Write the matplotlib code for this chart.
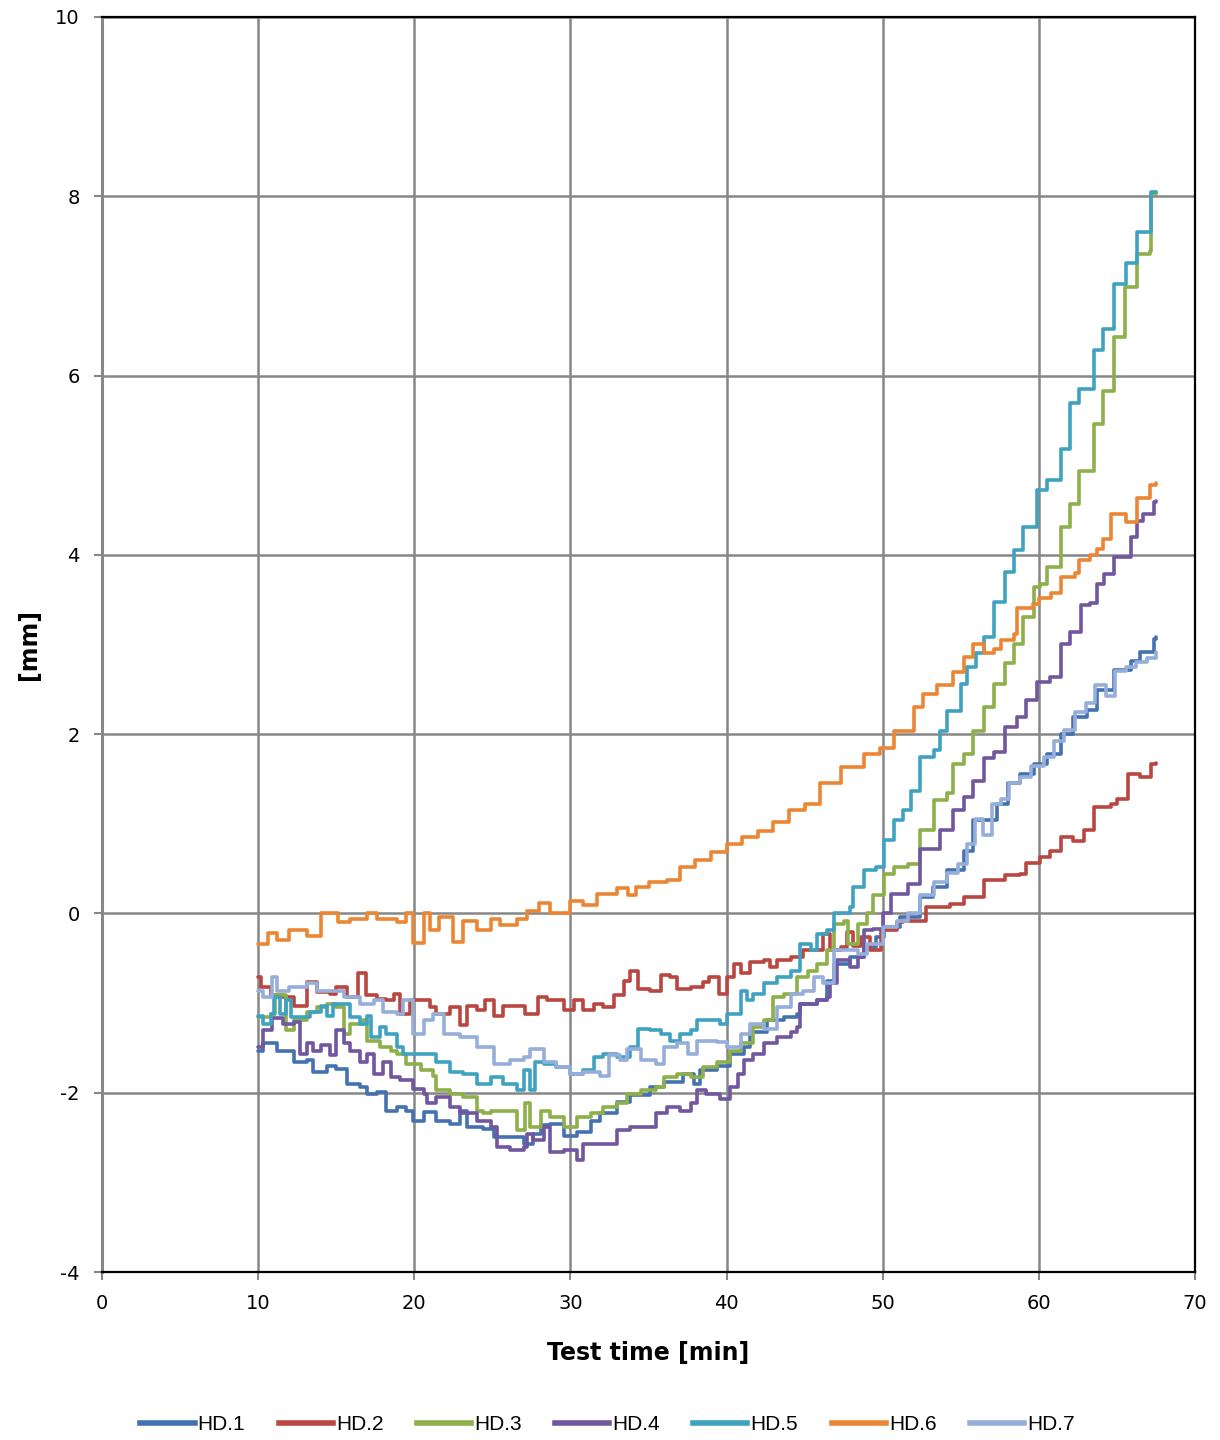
import matplotlib
matplotlib.use("Agg")
import matplotlib.pyplot as plt

plt.rcParams["axes.unicode_minus"] = False

# displacement readings [mm] vs test time [min], one pair of lists per gauge
HD1_T = [10, 10.3, 11.2, 12.3, 13.1, 13.5, 14.4, 15.0, 15.7, 16.5, 17.0, 17.6, 18.2, 18.9, 19.5,
         19.9, 20.6, 21.4, 22.3, 22.9, 23.4, 24.4, 25.1, 26.1, 27.0, 27.6, 28.1, 28.7, 29.6, 30.4,
         31.3, 31.9, 33.0, 33.8, 35.1, 36.0, 37.2, 37.9, 38.3, 39.4, 40.2, 41.1, 41.5, 42.6, 43.7,
         44.5, 44.7, 45.8, 46.4, 46.9, 47.5, 47.9, 48.8, 49.6, 50.1, 51.1, 52.4, 53.2, 54.1, 55.2,
         55.8, 57.3, 58.0, 58.8, 59.7, 60.5, 61.4, 62.2, 63.1, 63.7, 64.8, 65.9, 66.5, 67.4, 67.5]
HD1_MM = [-1.53, -1.45, -1.53, -1.66, -1.64, -1.77, -1.70, -1.73, -1.90, -1.94, -2.01, -1.99, -2.20, -2.16, -2.20,
          -2.31, -2.22, -2.31, -2.35, -2.20, -2.38, -2.40, -2.49, -2.49, -2.57, -2.46, -2.36, -2.35, -2.48, -2.44,
          -2.31, -2.23, -2.10, -2.03, -1.94, -1.88, -1.79, -1.90, -1.75, -1.70, -1.57, -1.49, -1.32, -1.19, -1.16,
          -1.12, -1.01, -0.97, -0.75, -0.56, -0.56, -0.49, -0.38, -0.26, -0.15, -0.04, 0.18, 0.30, 0.48, 0.70,
          1.04, 1.22, 1.45, 1.56, 1.67, 1.78, 2.00, 2.19, 2.27, 2.49, 2.71, 2.82, 2.92, 3.06, 3.08]

HD2_T = [10, 10.2, 10.8, 11.6, 12.3, 13.1, 13.8, 14.6, 15.0, 15.7, 16.4, 16.9, 17.6, 18.2, 18.7,
         19.1, 19.7, 20.4, 21.0, 21.4, 22.3, 22.9, 23.4, 24.0, 24.5, 25.1, 25.7, 26.6, 27.1, 27.9,
         28.5, 29.6, 30.2, 30.8, 31.5, 32.1, 32.8, 33.4, 33.8, 34.3, 35.1, 35.8, 36.4, 36.8, 37.7,
         38.5, 38.9, 39.5, 40.0, 40.5, 40.9, 41.5, 42.4, 42.8, 43.2, 44.1, 44.9, 45.8, 46.2, 46.6,
         47.3, 47.7, 48.1, 48.6, 49.2, 49.9, 50.9, 51.3, 52.8, 54.3, 55.2, 56.5, 57.8, 58.8, 59.2,
         60.1, 60.7, 61.4, 62.2, 62.9, 63.5, 64.6, 65.0, 65.7, 66.5, 67.2, 67.5]
HD2_MM = [-0.71, -0.82, -0.91, -0.93, -1.03, -0.77, -0.88, -0.90, -0.82, -0.93, -0.67, -0.91, -0.95, -0.97, -0.90,
          -1.12, -0.97, -0.97, -1.04, -1.12, -1.04, -1.25, -1.03, -1.08, -0.97, -1.14, -1.03, -1.03, -1.12, -0.93,
          -0.97, -1.08, -0.97, -1.08, -1.01, -1.04, -0.91, -0.75, -0.64, -0.84, -0.86, -0.69, -0.71, -0.84, -0.82,
          -0.77, -0.71, -0.90, -0.71, -0.56, -0.67, -0.54, -0.52, -0.60, -0.52, -0.49, -0.41, -0.41, -0.23, -0.41,
          -0.38, -0.21, -0.36, -0.26, -0.41, -0.19, -0.10, -0.08, 0.07, 0.11, 0.18, 0.37, 0.43, 0.44, 0.56,
          0.63, 0.70, 0.85, 0.81, 0.93, 1.19, 1.22, 1.28, 1.56, 1.52, 1.67, 1.68]

HD3_T = [10, 10.8, 11.1, 11.8, 12.3, 13.1, 13.8, 14.4, 15.0, 15.5, 15.9, 16.7, 17.0, 17.8, 18.5,
         18.9, 19.5, 20.4, 21.2, 21.4, 22.3, 23.1, 24.0, 24.4, 24.9, 25.7, 26.6, 27.1, 27.4, 28.1,
         28.7, 29.6, 30.4, 31.3, 32.1, 33.0, 33.6, 34.5, 35.5, 36.0, 36.8, 37.7, 38.5, 39.4, 40.2,
         40.9, 41.7, 42.4, 43.0, 43.7, 44.5, 45.2, 45.8, 46.4, 46.9, 47.5, 47.8, 48.4, 49.0, 49.4,
         50.1, 50.7, 51.6, 52.4, 53.3, 54.1, 54.5, 55.2, 55.8, 56.5, 57.1, 57.8, 58.4, 59.0, 59.7,
         60.1, 60.5, 61.2, 61.4, 62.0, 62.6, 63.5, 64.1, 64.8, 65.5, 66.3, 67.1, 67.2, 67.5]
HD3_MM = [-1.16, -1.12, -0.91, -1.30, -1.19, -1.10, -1.04, -1.01, -1.04, -1.34, -1.23, -1.19, -1.42, -1.49, -1.53,
          -1.57, -1.68, -1.75, -1.81, -1.97, -2.01, -2.05, -2.20, -2.23, -2.20, -2.20, -2.42, -2.12, -2.38, -2.20,
          -2.27, -2.38, -2.27, -2.23, -2.16, -2.12, -2.01, -1.97, -1.94, -1.83, -1.79, -1.83, -1.71, -1.66, -1.53,
          -1.45, -1.27, -1.19, -0.93, -0.90, -0.71, -0.64, -0.56, -0.41, -0.12, -0.08, -0.34, -0.12, 0.00, 0.20,
          0.44, 0.52, 0.55, 0.93, 1.26, 1.34, 1.67, 1.78, 2.04, 2.30, 2.56, 2.79, 3.01, 3.31, 3.64,
          3.68, 3.86, 3.86, 4.31, 4.57, 4.94, 5.46, 5.83, 6.43, 6.99, 7.36, 7.39, 8.03, 8.05]

HD4_T = [10, 10.3, 10.9, 11.6, 12.3, 12.7, 13.1, 13.5, 14.0, 14.6, 15.0, 15.5, 15.9, 16.5, 17.0,
         17.4, 18.0, 18.5, 19.1, 19.9, 20.6, 20.8, 21.4, 22.3, 22.9, 24.0, 24.9, 25.3, 26.1, 27.0,
         27.2, 27.6, 28.3, 28.7, 29.6, 30.4, 30.8, 31.9, 33.0, 33.8, 34.7, 35.5, 36.2, 37.0, 37.7,
         38.1, 38.7, 39.6, 40.2, 40.7, 41.1, 41.7, 42.4, 43.2, 44.1, 44.5, 44.7, 45.8, 46.4, 46.6,
         47.1, 47.9, 48.4, 48.8, 49.4, 50.0, 50.5, 51.6, 52.4, 53.7, 54.5, 55.2, 55.8, 56.5, 57.1,
         57.8, 58.6, 59.2, 59.9, 60.7, 61.4, 62.0, 62.7, 63.3, 63.7, 64.2, 64.8, 65.4, 65.9, 66.3,
         66.7, 67.4, 67.5]
HD4_MM = [-1.49, -1.30, -1.17, -1.23, -1.21, -1.57, -1.45, -1.53, -1.47, -1.58, -1.30, -1.45, -1.53, -1.66, -1.57,
          -1.79, -1.66, -1.83, -1.86, -1.96, -2.01, -2.12, -2.05, -2.16, -2.23, -2.31, -2.38, -2.61, -2.64, -2.61,
          -2.46, -2.53, -2.38, -2.66, -2.64, -2.75, -2.57, -2.57, -2.42, -2.38, -2.38, -2.23, -2.16, -2.20, -2.12,
          -1.97, -2.01, -2.07, -1.94, -1.79, -1.64, -1.57, -1.45, -1.38, -1.32, -1.27, -1.01, -0.97, -0.93, -0.78,
          -0.52, -0.60, -0.49, -0.19, -0.17, 0.01, 0.22, 0.33, 0.72, 0.93, 1.15, 1.30, 1.48, 1.73, 1.80,
          2.08, 2.19, 2.38, 2.58, 2.64, 3.01, 3.14, 3.44, 3.46, 3.68, 3.79, 3.98, 3.98, 4.20, 4.38,
          4.46, 4.59, 4.60]

HD5_T = [10, 10.3, 10.8, 11.0, 11.4, 11.8, 12.1, 12.7, 13.3, 14.0, 14.4, 14.8, 15.5, 15.9, 16.5,
         17.0, 17.2, 17.8, 18.2, 18.9, 19.3, 19.9, 20.8, 21.4, 22.3, 23.1, 24.0, 24.9, 25.7, 26.6,
         27.0, 27.4, 27.7, 28.3, 29.1, 30.0, 30.8, 31.5, 32.1, 33.0, 33.8, 34.3, 35.1, 35.8, 36.4,
         37.0, 37.7, 38.1, 39.0, 39.6, 40.0, 40.9, 41.3, 41.7, 42.4, 43.2, 44.1, 44.7, 45.4, 45.8,
         46.4, 46.9, 47.9, 48.1, 48.8, 49.6, 50.1, 50.7, 51.3, 51.8, 52.4, 53.3, 53.7, 54.1, 55.0,
         55.4, 56.0, 56.5, 57.1, 57.8, 58.4, 59.0, 59.9, 60.5, 61.4, 62.0, 62.6, 63.5, 64.1, 64.8,
         65.6, 66.3, 67.2, 67.5]
HD5_MM = [-1.14, -1.23, -1.12, -0.93, -1.12, -0.97, -1.16, -1.16, -1.10, -1.03, -1.14, -1.01, -1.01, -1.16, -1.23,
          -1.14, -1.38, -1.27, -1.34, -1.49, -1.57, -1.57, -1.57, -1.66, -1.77, -1.79, -1.90, -1.83, -1.90, -1.97,
          -1.75, -1.97, -1.66, -1.68, -1.71, -1.79, -1.75, -1.60, -1.57, -1.60, -1.49, -1.29, -1.30, -1.34, -1.42,
          -1.34, -1.30, -1.19, -1.19, -1.23, -1.12, -0.86, -0.97, -0.90, -0.78, -0.71, -0.64, -0.34, -0.41, -0.23,
          -0.19, 0.00, 0.07, 0.29, 0.48, 0.52, 0.82, 1.04, 1.15, 1.37, 1.74, 1.82, 2.04, 2.26, 2.56,
          2.75, 2.90, 3.08, 3.47, 3.81, 4.05, 4.31, 4.72, 4.83, 5.18, 5.69, 5.85, 6.28, 6.52, 7.02,
          7.26, 7.60, 8.05, 8.05]

HD6_T = [10, 10.6, 11.2, 12.0, 13.1, 14.0, 15.1, 15.9, 17.0, 17.6, 18.9, 19.5, 19.9, 20.6, 21.0,
         21.6, 22.5, 23.1, 24.0, 24.9, 25.5, 26.6, 27.2, 28.0, 28.7, 30.0, 30.8, 31.7, 33.0, 33.7,
         34.2, 35.0, 36.2, 37.0, 38.0, 39.0, 40.0, 41.0, 42.0, 43.0, 44.0, 45.0, 46.0, 47.3, 48.8,
         49.8, 50.7, 52.0, 52.6, 53.5, 54.5, 55.2, 55.8, 56.5, 57.1, 57.6, 58.4, 58.6, 59.6, 60.0,
         60.8, 61.4, 62.3, 62.6, 63.3, 63.7, 64.1, 64.6, 65.6, 66.3, 67.1, 67.5]
HD6_MM = [-0.34, -0.22, -0.30, -0.19, -0.25, 0.00, -0.10, -0.06, 0.01, -0.06, -0.10, 0.00, -0.33, 0.00, -0.19,
          -0.04, -0.32, -0.08, -0.19, -0.06, -0.13, -0.06, 0.03, 0.12, 0.00, 0.14, 0.09, 0.22, 0.28, 0.20,
          0.30, 0.35, 0.37, 0.52, 0.60, 0.68, 0.78, 0.85, 0.92, 1.02, 1.15, 1.22, 1.45, 1.63, 1.78,
          1.85, 2.04, 2.30, 2.45, 2.55, 2.69, 2.86, 3.01, 2.90, 2.95, 3.05, 3.12, 3.41, 3.45, 3.52,
          3.58, 3.75, 3.80, 3.94, 4.00, 4.07, 4.18, 4.46, 4.37, 4.63, 4.78, 4.80]

HD7_T = [10, 10.3, 10.9, 11.2, 12.0, 13.1, 13.8, 14.8, 15.5, 16.5, 17.4, 18.0, 18.9, 19.3, 19.9,
         20.6, 21.2, 21.9, 22.9, 24.0, 25.1, 26.1, 27.0, 27.4, 28.3, 29.1, 30.0, 30.8, 31.9, 32.5,
         33.2, 33.6, 34.5, 35.5, 36.0, 36.8, 37.5, 38.1, 39.4, 40.0, 40.9, 41.5, 42.4, 43.2, 44.1,
         44.9, 45.6, 46.2, 46.9, 47.5, 48.4, 49.0, 50.0, 50.9, 51.6, 52.4, 53.3, 54.1, 54.8, 55.4,
         55.9, 56.4, 57.0, 57.6, 58.1, 58.8, 59.5, 60.3, 61.0, 61.6, 62.3, 63.0, 63.6, 64.3, 64.9,
         65.6, 66.2, 66.9, 67.5]
HD7_MM = [-0.86, -0.93, -0.71, -0.86, -0.82, -0.78, -0.86, -0.86, -0.93, -1.01, -0.97, -1.10, -1.12, -0.97, -1.34,
          -1.19, -1.12, -1.34, -1.38, -1.49, -1.68, -1.64, -1.60, -1.51, -1.66, -1.71, -1.79, -1.77, -1.81, -1.58,
          -1.64, -1.51, -1.64, -1.68, -1.49, -1.45, -1.57, -1.42, -1.43, -1.49, -1.34, -1.23, -1.29, -1.04, -0.90,
          -0.86, -0.71, -0.78, -0.41, -0.41, -0.45, -0.34, -0.15, -0.08, 0.00, 0.20, 0.35, 0.45, 0.55, 0.78,
          1.05, 0.87, 1.22, 1.28, 1.45, 1.52, 1.64, 1.74, 1.92, 2.05, 2.25, 2.35, 2.55, 2.42, 2.70,
          2.75, 2.80, 2.85, 2.92]

LABELS = ["HD.1", "HD.2", "HD.3", "HD.4", "HD.5", "HD.6", "HD.7"]
COLORS = ["#4472B0", "#B94641", "#8DB04B", "#7156A0", "#3EA2C0", "#EA8634", "#95AEDA"]
SERIES = [(HD1_T, HD1_MM), (HD2_T, HD2_MM), (HD3_T, HD3_MM), (HD4_T, HD4_MM),
          (HD5_T, HD5_MM), (HD6_T, HD6_MM), (HD7_T, HD7_MM)]

fig = plt.figure(figsize=(12.2, 14.4), dpi=100)
ax = fig.add_axes([102 / 1220, 1 - 1272 / 1440, 1093 / 1220, 1255 / 1440])

for (t, mm), lab, col in zip(SERIES, LABELS, COLORS):
    ax.plot(t, mm, color=col, lw=2.6, drawstyle="steps-post", label=lab,
            solid_joinstyle="round", solid_capstyle="round")

ax.set_xlim(0, 70)
ax.set_ylim(-4, 10)
ax.set_xticks(range(0, 71, 10))
ax.set_yticks(range(-4, 11, 2))
ax.grid(True, color="#878787", lw=1.8)
ax.set_axisbelow(True)

for side in ["top", "right", "bottom"]:
    ax.spines[side].set_color("black")
    ax.spines[side].set_linewidth(1.6)
ax.spines["left"].set_color("#878787")
ax.spines["left"].set_linewidth(2.2)

ax.tick_params(direction="out", length=6, width=1.5, color="#878787",
               labelsize=14, pad=10)

ax.set_xlabel("Test time [min]", fontsize=17, fontweight="bold", labelpad=20)
ax.set_ylabel("[mm]", fontsize=17, fontweight="bold", labelpad=10)

leg_handles = [plt.Line2D([], [], color=c, lw=4) for c in COLORS]
fig.legend(leg_handles, LABELS, loc="center", bbox_to_anchor=(0.498, 1 - 1425 / 1440),
           ncol=7, frameon=False, handlelength=2.6, handletextpad=0.15,
           columnspacing=1.6, prop={"family": "Liberation Sans", "size": 15})

fig.savefig("out.png", dpi=100)
